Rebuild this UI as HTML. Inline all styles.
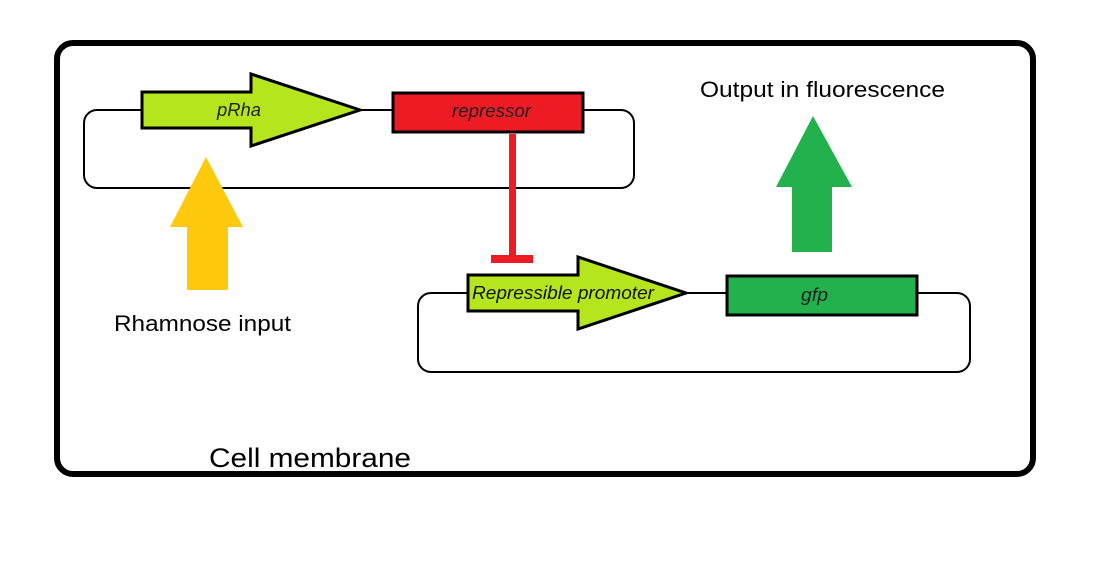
<!DOCTYPE html>
<html><head><style>
html,body{margin:0;padding:0;background:#fff;}
svg{display:block;}
text{font-family:"Liberation Sans",sans-serif;}
</style></head><body>
<svg width="1112" height="568" viewBox="0 0 1112 568" xmlns="http://www.w3.org/2000/svg">
<rect x="0" y="0" width="1112" height="568" fill="#fff"/>
<rect x="57" y="43" width="976" height="431" rx="16" fill="none" stroke="#000" stroke-width="6"/>
<rect x="84" y="110" width="550" height="78" rx="13" fill="none" stroke="#000" stroke-width="2"/>
<polygon points="142,92 251,92 251,74 360,110 251,146 251,128 142,128" fill="#b5e61d" stroke="#000" stroke-width="3"/>
<text x="217" y="116" font-size="18" font-style="italic" textLength="44" lengthAdjust="spacingAndGlyphs" fill="#222">pRha</text>
<rect x="393" y="93" width="190" height="39" fill="#ed1c24" stroke="#000" stroke-width="3"/>
<text x="452" y="117" font-size="18" font-style="italic" textLength="79" lengthAdjust="spacingAndGlyphs" fill="#222">repressor</text>
<rect x="509" y="134" width="7" height="124" fill="#ed1c24"/>
<rect x="491" y="255" width="42" height="8" fill="#ed1c24"/>
<polygon points="206,157 243,227 228,227 228,290 187,290 187,227 170,227" fill="#ffc90e"/>
<text x="114" y="331" font-size="22" textLength="177" lengthAdjust="spacingAndGlyphs" fill="#000">Rhamnose input</text>
<rect x="418" y="293" width="552" height="79" rx="13" fill="none" stroke="#000" stroke-width="2"/>
<polygon points="468,275 578,275 578,257 686,293 578,329 578,311 468,311" fill="#b5e61d" stroke="#000" stroke-width="3"/>
<text x="472" y="299" font-size="18" font-style="italic" textLength="182" lengthAdjust="spacingAndGlyphs" fill="#111">Repressible promoter</text>
<rect x="727" y="276" width="190" height="39" fill="#22b14c" stroke="#000" stroke-width="3"/>
<text x="801" y="301" font-size="18" font-style="italic" textLength="27" lengthAdjust="spacingAndGlyphs" fill="#222">gfp</text>
<polygon points="813,116 852,187 832,187 832,252 792,252 792,187 776,187" fill="#22b14c"/>
<text x="700" y="97" font-size="22" textLength="245" lengthAdjust="spacingAndGlyphs" fill="#000">Output in fluorescence</text>
<text x="209" y="467" font-size="27" textLength="202" lengthAdjust="spacingAndGlyphs" fill="#000">Cell membrane</text>
</svg>
</body></html>
